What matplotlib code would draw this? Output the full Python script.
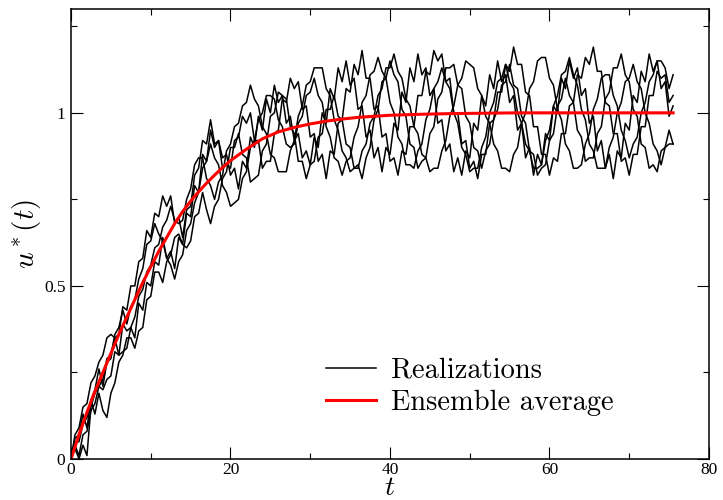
import numpy as np
import matplotlib
matplotlib.use('Agg')
import matplotlib.pyplot as plt
from matplotlib.ticker import MultipleLocator

plt.rcParams['mathtext.fontset'] = 'cm'
plt.rcParams['font.family'] = ['Liberation Serif', 'DejaVu Serif']

# time grid of the realizations (step 0.5)
t = np.arange(0, 76, 0.5)

real_1 = [0.00, 0.03, 0.00, 0.04, 0.01, 0.15, 0.19, 0.21, 0.20, 0.23,
          0.24, 0.31, 0.30, 0.39, 0.37, 0.38, 0.35, 0.45, 0.43, 0.51,
          0.50, 0.57, 0.56, 0.64, 0.58, 0.60, 0.55, 0.64, 0.62, 0.71,
          0.70, 0.79, 0.77, 0.88, 0.86, 0.95, 0.90, 0.92, 0.87, 0.88,
          0.82, 0.84, 0.78, 0.86, 0.84, 0.93, 0.90, 0.99, 0.95, 1.04,
          1.00, 1.08, 1.03, 1.05, 0.97, 0.99, 0.92, 0.94, 0.87, 0.89,
          0.85, 0.93, 0.90, 1.00, 0.97, 1.07, 1.04, 1.13, 1.09, 1.15,
          1.08, 1.10, 1.01, 1.02, 0.93, 0.95, 0.87, 0.90, 0.83, 0.90,
          0.88, 0.97, 0.95, 1.06, 1.03, 1.13, 1.09, 1.17, 1.11, 1.13,
          1.05, 1.07, 0.97, 0.98, 0.89, 0.91, 0.83, 0.87, 0.82, 0.89,
          0.87, 0.97, 0.95, 1.05, 1.02, 1.11, 1.07, 1.15, 1.09, 1.11,
          1.03, 1.05, 0.95, 0.97, 0.87, 0.90, 0.82, 0.88, 0.85, 0.94,
          0.92, 1.02, 1.00, 1.10, 1.07, 1.15, 1.10, 1.13, 1.05, 1.07,
          0.97, 0.99, 0.89, 0.92, 0.84, 0.88, 0.81, 0.89, 0.87, 0.97,
          0.95, 1.05, 1.03, 1.12, 1.09, 1.17, 1.12, 1.15, 1.07, 1.09,
          0.99, 1.02]

real_2 = [0.00, 0.06, 0.07, 0.13, 0.09, 0.17, 0.20, 0.26, 0.21, 0.28,
          0.29, 0.35, 0.36, 0.44, 0.43, 0.50, 0.50, 0.57, 0.58, 0.66,
          0.64, 0.71, 0.70, 0.76, 0.73, 0.76, 0.68, 0.70, 0.64, 0.72,
          0.73, 0.82, 0.84, 0.92, 0.91, 0.98, 0.91, 0.92, 0.84, 0.85,
          0.84, 0.92, 0.93, 0.99, 0.97, 1.00, 0.92, 0.92, 0.84, 0.86,
          0.86, 0.94, 0.95, 1.04, 1.03, 1.10, 1.07, 1.09, 1.01, 1.02,
          0.93, 0.94, 0.86, 0.88, 0.81, 0.89, 0.88, 0.97, 0.98, 1.07,
          1.06, 1.14, 1.11, 1.18, 1.10, 1.10, 1.01, 1.02, 0.93, 0.94,
          0.86, 0.87, 0.82, 0.89, 0.88, 0.96, 0.96, 1.05, 1.05, 1.12,
          1.11, 1.18, 1.15, 1.17, 1.09, 1.10, 1.00, 1.00, 0.91, 0.92,
          0.84, 0.86, 0.81, 0.88, 0.88, 0.97, 0.98, 1.06, 1.06, 1.14,
          1.12, 1.19, 1.14, 1.14, 1.06, 1.05, 0.96, 0.96, 0.88, 0.88,
          0.82, 0.87, 0.86, 0.94, 0.94, 1.02, 1.03, 1.11, 1.10, 1.16,
          1.14, 1.19, 1.12, 1.12, 1.03, 1.02, 0.94, 0.94, 0.86, 0.87,
          0.82, 0.88, 0.88, 0.96, 0.96, 1.05, 1.05, 1.12, 1.10, 1.11,
          1.03, 1.05]

real_3 = [0.00, 0.05, 0.05, 0.10, 0.12, 0.17, 0.13, 0.19, 0.14, 0.12,
          0.19, 0.22, 0.28, 0.30, 0.35, 0.35, 0.32, 0.37, 0.38, 0.46,
          0.47, 0.54, 0.54, 0.51, 0.57, 0.59, 0.64, 0.65, 0.62, 0.61,
          0.63, 0.70, 0.71, 0.77, 0.72, 0.68, 0.73, 0.75, 0.81, 0.83,
          0.90, 0.90, 0.94, 0.88, 0.87, 0.80, 0.81, 0.82, 0.89, 0.91,
          0.99, 1.00, 1.06, 1.05, 1.04, 0.96, 0.94, 0.86, 0.86, 0.81,
          0.85, 0.86, 0.93, 0.94, 1.01, 1.01, 1.05, 0.99, 0.98, 0.91,
          0.90, 0.84, 0.85, 0.81, 0.87, 0.90, 0.98, 1.01, 1.09, 1.10,
          1.15, 1.11, 1.09, 1.01, 0.99, 0.91, 0.90, 0.84, 0.86, 0.87,
          0.94, 0.96, 1.04, 1.06, 1.13, 1.13, 1.14, 1.08, 1.07, 0.99,
          0.97, 0.90, 0.89, 0.84, 0.89, 0.91, 0.98, 1.01, 1.08, 1.09,
          1.14, 1.08, 1.07, 0.99, 0.97, 0.89, 0.88, 0.82, 0.84, 0.85,
          0.92, 0.94, 1.02, 1.04, 1.10, 1.05, 1.03, 0.95, 0.93, 0.86,
          0.87, 0.87, 0.94, 0.96, 1.04, 1.06, 1.13, 1.13, 1.17, 1.11,
          1.09, 1.01, 0.99, 0.91, 0.90, 0.84, 0.85, 0.83, 0.89, 0.90,
          0.95, 0.91]

real_4 = [0.00, 0.07, 0.09, 0.15, 0.16, 0.22, 0.24, 0.28, 0.30, 0.35,
          0.36, 0.35, 0.30, 0.31, 0.32, 0.38, 0.41, 0.47, 0.49, 0.54,
          0.56, 0.61, 0.62, 0.67, 0.69, 0.73, 0.69, 0.68, 0.69, 0.75,
          0.78, 0.85, 0.87, 0.87, 0.81, 0.79, 0.75, 0.80, 0.82, 0.89,
          0.91, 0.96, 0.97, 1.02, 1.03, 1.08, 1.04, 1.02, 0.96, 0.94,
          0.88, 0.87, 0.83, 0.83, 0.83, 0.89, 0.92, 0.99, 1.02, 1.08,
          1.09, 1.13, 1.13, 1.13, 1.07, 1.05, 0.98, 0.95, 0.89, 0.87,
          0.83, 0.84, 0.84, 0.89, 0.91, 0.97, 0.99, 1.05, 1.07, 1.13,
          1.13, 1.17, 1.12, 1.10, 1.04, 1.02, 0.96, 0.94, 0.88, 0.87,
          0.83, 0.84, 0.84, 0.89, 0.92, 0.99, 1.02, 1.08, 1.10, 1.15,
          1.14, 1.13, 1.07, 1.05, 0.99, 0.97, 0.91, 0.89, 0.84, 0.84,
          0.83, 0.88, 0.90, 0.97, 1.00, 1.07, 1.09, 1.15, 1.16, 1.16,
          1.10, 1.08, 1.01, 0.98, 0.91, 0.89, 0.84, 0.84, 0.85, 0.91,
          0.94, 1.01, 1.04, 1.10, 1.11, 1.11, 1.05, 1.02, 0.95, 0.92,
          0.87, 0.91, 0.93, 1.00, 1.03, 1.09, 1.11, 1.15, 1.15, 1.13,
          1.07, 1.11]

real_5 = [0.00, 0.04, 0.01, 0.07, 0.08, 0.14, 0.16, 0.21, 0.23, 0.29,
          0.30, 0.36, 0.38, 0.43, 0.39, 0.44, 0.46, 0.52, 0.55, 0.62,
          0.63, 0.68, 0.65, 0.63, 0.58, 0.56, 0.52, 0.57, 0.59, 0.66,
          0.68, 0.74, 0.77, 0.84, 0.86, 0.91, 0.87, 0.85, 0.79, 0.77,
          0.73, 0.74, 0.75, 0.81, 0.83, 0.90, 0.92, 0.98, 1.00, 1.05,
          1.05, 1.04, 0.98, 0.96, 0.91, 0.90, 0.91, 0.97, 0.99, 1.05,
          1.06, 1.10, 1.05, 1.03, 0.96, 0.93, 0.87, 0.86, 0.82, 0.86,
          0.87, 0.93, 0.96, 1.03, 1.05, 1.11, 1.12, 1.16, 1.12, 1.10,
          1.03, 1.00, 0.93, 0.91, 0.85, 0.85, 0.84, 0.89, 0.91, 0.98,
          1.01, 1.07, 1.09, 1.13, 1.09, 1.07, 1.00, 0.97, 0.90, 0.88,
          0.83, 0.84, 0.84, 0.90, 0.93, 1.00, 1.03, 1.09, 1.10, 1.14,
          1.09, 1.07, 1.00, 0.97, 0.91, 0.89, 0.84, 0.84, 0.85, 0.92,
          0.95, 1.02, 1.05, 1.11, 1.12, 1.16, 1.11, 1.08, 1.01, 0.98,
          0.91, 0.89, 0.84, 0.84, 0.84, 0.90, 0.93, 1.00, 1.03, 1.09,
          1.10, 1.14, 1.09, 1.07, 1.00, 0.97, 0.91, 0.89, 0.85, 0.90,
          0.91, 0.91]

realizations = [real_1, real_2, real_3, real_4, real_5]

# ensemble average
t_avg = [0, 1, 2, 3, 4, 5, 6, 7, 8, 9, 10, 11, 12, 13, 14, 15, 16, 17, 18, 19,
         20, 22, 24, 26, 28, 30, 32, 34, 36, 38, 40, 44, 48, 52, 56, 60, 65,
         70, 75.5]
u_avg = [0.0, 0.07, 0.135, 0.195, 0.25, 0.305, 0.36, 0.41, 0.46, 0.51,
         0.555, 0.60, 0.64, 0.68, 0.715, 0.745, 0.772, 0.797, 0.82, 0.842,
         0.862, 0.895, 0.925, 0.945, 0.958, 0.968, 0.976, 0.982, 0.987,
         0.99, 0.993, 0.996, 0.998, 0.999, 1.0, 1.0, 1.0, 1.0, 1.0]

x_ticks = [0, 20, 40, 60, 80]
y_ticks = [0, 0.5, 1]
y_ticklabels = ['0', '0.5', '1']

fig = plt.figure(figsize=(7.23, 5.0), dpi=100)
ax = fig.add_axes([0.0982, 0.082, 0.8824, 0.9])

for i, u in enumerate(realizations):
    ax.plot(t, u, color='black', linewidth=1.1,
            label='Realizations' if i == 0 else None)
ax.plot(t_avg, u_avg, color='red', linewidth=2.2, label='Ensemble average')

ax.set_xlim(0, 80)
ax.set_ylim(0, 1.3)
ax.set_xticks(x_ticks)
ax.set_xticklabels([str(v) for v in x_ticks], fontsize=12.5)
ax.xaxis.set_minor_locator(MultipleLocator(10))
ax.set_yticks(y_ticks)
ax.set_yticklabels(y_ticklabels, fontsize=12.5)
ax.yaxis.set_minor_locator(MultipleLocator(0.25))
ax.tick_params(which='both', direction='in', top=True, right=True, width=0.8)
ax.tick_params(which='major', length=8.5, pad=4)
ax.tick_params(axis='x', which='major', pad=2)
ax.tick_params(which='minor', length=4.3)
for s in ax.spines.values():
    s.set_linewidth(1.1)

ax.set_xlabel('$t$', fontsize=20, labelpad=-1)
ax.set_ylabel('$u^*(t)$', fontsize=21, labelpad=1)

ax.legend(loc='upper left', bbox_to_anchor=(0.40, 0.226), frameon=False,
          prop={'family': 'cmr10', 'size': 20.5}, handlelength=1.75,
          handletextpad=0.53, labelspacing=0.2, borderpad=0, borderaxespad=0)

fig.savefig('out.png', dpi=100, facecolor='white')
